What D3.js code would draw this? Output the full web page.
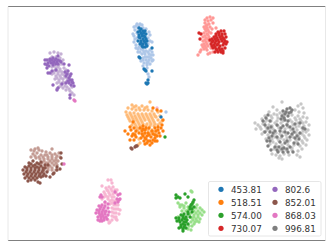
<!DOCTYPE html>
<html>
<head>
<meta charset="utf-8">
<style>
html, body { margin: 0; padding: 0; background: #fff; }
svg { display: block; }
text { font-family: "DejaVu Sans", sans-serif; }
</style>
</head>
<body>
<svg width="332" height="249"></svg>
<script src="https://d3js.org/d3.v7.min.js"></script>
<script>

// values are embedding coordinates, [x, y]
var labels = ["453.81", "518.51", "574.00", "730.07", "802.6", "852.01", "868.03", "996.81"];
var darkColors = ["#1f77b4", "#ff7f0e", "#2ca02c", "#d62728", "#9467bd", "#8c564b", "#e377c2", "#7f7f7f"];
var lightColors = ["#aec7e8", "#ffbb78", "#98df8a", "#ff9896", "#c5b0d5", "#c49c94", "#f7b6d2", "#c7c7c7"];

var blueLight = [[134,27],[137,24],[140,24],[142,25],[135,30],[133,34],[138,28],[143,28],[146,29],[149,32],[150,35],[134,36],[137,33],[137,38],[134,42],[136,45],[139,47],[148,38],[150,41],[152,42],[148,44],[146,47],[143,50],[140,52],[146,51],[150,50],[152,52],[138,52],[142,54],[145,54],[149,54],[153,55],[147,57],[151,58],[153,60],[143,58],[146,60],[149,60],[141,61],[144,63],[148,62],[152,61],[143,66],[147,65],[150,64],[148,74],[149,77],[147,68],[166,112],[136,26],[139,26],[141,49],[144,52],[148,52],[151,55],[145,57],[149,57],[143,60],[147,63],[138,49],[136,48],[135,39]];
var blueDark = [[139,28],[141,29],[143,31],[138,32],[141,33],[144,33],[146,34],[139,35],[142,36],[145,37],[140,38],[143,39],[146,39],[141,41],[144,41],[147,41],[138,41],[140,44],[143,44],[146,44],[142,46],[145,47],[143,47],[152,48],[140,58],[139,57],[145,70],[152,71],[144,69],[146,71],[146,83],[148,83],[148,80],[147,84],[161,117],[140,31],[145,31],[142,34],[139,37],[144,36],[141,43],[145,42],[147,46]];

var orangeLight = [[150,102],[132,105],[136,106],[142,106],[147,107],[128,108],[132,109],[136,110],[140,110],[144,110],[148,110],[152,111],[126,112],[130,113],[134,113],[138,114],[142,114],[146,114],[150,114],[154,114],[158,112],[128,117],[132,117],[136,118],[140,118],[144,118],[148,118],[152,118],[156,117],[160,116],[130,121],[134,121],[138,122],[142,122],[150,122],[154,122],[158,120],[162,121],[132,125],[136,126],[140,126],[146,126],[150,126],[154,126],[158,125],[138,130],[142,130],[148,130],[152,130],[135,133],[144,134],[150,134],[156,134],[139,139],[140,143],[138,145],[134,107],[139,108],[145,108],[127,115],[131,115],[135,116],[139,116],[143,116],[147,116],[151,116],[155,116],[129,119],[133,119],[137,120],[141,120],[145,120],[149,120],[153,120],[135,124],[139,124],[143,124],[147,124],[151,124],[155,124],[160,123],[137,128],[141,128],[151,132],[154,132]];
var orangeDark = [[153,108],[157,110],[161,111],[133,122],[130,127],[134,128],[125,131],[132,136],[133,134],[130,140],[140,128],[143,126],[142,131],[145,133],[143,136],[147,136],[144,141],[148,141],[152,131],[155,135],[158,130],[162,125],[163,131],[160,136],[153,140],[157,141],[150,145],[146,128],[149,128],[139,133],[155,128],[156,131],[151,137],[146,139],[141,138],[155,138],[150,141],[145,144],[163,120],[159,133],[136,137],[128,134],[134,140],[148,133],[131,130],[136,131],[143,129],[145,130],[149,135],[153,134],[157,136],[158,127],[161,128],[147,143],[152,143],[155,141],[145,138],[142,134],[135,135]];

var greenLight = [[191,191],[192,192],[178,203],[182,205],[186,203],[193,203],[197,205],[180,207],[184,208],[188,207],[192,207],[196,208],[200,208],[182,211],[186,211],[194,211],[198,211],[202,210],[204,212],[190,214],[194,215],[198,215],[202,215],[192,218],[196,219],[200,219],[191,222],[195,222],[199,222],[192,226],[188,229],[191,230],[186,218],[178,217],[180,205],[184,206],[188,210],[196,213],[200,213],[194,217],[198,217],[193,220],[197,221],[194,224],[189,226]];
var greenDark = [[176,195],[178,197],[180,198],[185,194],[188,197],[194,200],[192,204],[194,207],[190,209],[192,212],[188,212],[184,214],[181,215],[186,217],[179,218],[183,218],[187,220],[177,221],[180,222],[184,222],[181,225],[185,225],[188,224],[176,218],[179,228],[183,229],[186,228],[183,231],[190,217],[191,205],[176,198],[165,137],[183,216],[185,219],[182,220],[179,220],[183,224],[186,222],[181,227],[184,227],[188,214],[192,209],[190,207],[193,202]];

var redLight = [[207,18],[210,17],[213,18],[205,20],[208,21],[211,20],[205,23],[209,24],[213,23],[206,26],[210,27],[216,28],[205,29],[208,30],[212,29],[204,33],[207,34],[211,33],[203,37],[206,38],[209,37],[203,41],[206,42],[209,41],[202,45],[205,46],[208,46],[201,50],[204,49],[207,50],[210,53],[211,48],[198,55],[200,52],[208,54],[213,52],[207,25],[204,27],[207,28],[206,31],[209,32],[205,36],[208,35],[205,40],[208,39],[204,44],[207,44],[203,47],[206,48]];
var redDark = [[199,33],[201,34],[200,39],[218,32],[221,31],[224,31],[216,34],[219,35],[222,34],[225,34],[214,37],[217,38],[220,37],[223,38],[226,37],[210,40],[213,41],[216,41],[219,42],[222,41],[225,41],[227,42],[211,44],[214,45],[217,45],[220,46],[223,45],[226,44],[213,48],[216,49],[219,48],[222,49],[225,48],[215,52],[218,52],[221,52],[217,50],[223,53],[219,33],[216,36],[222,36],[212,39],[215,39],[218,40],[221,39],[224,39],[212,42],[215,43],[218,44],[224,43],[212,46],[215,47],[220,50],[223,51]];

var purpleLight = [[50,53],[54,52],[58,53],[61,54],[52,57],[56,57],[60,58],[49,60],[53,61],[63,60],[55,64],[59,65],[62,64],[52,67],[56,68],[60,69],[64,68],[54,71],[58,72],[62,72],[66,70],[52,74],[56,76],[60,76],[64,75],[68,74],[55,79],[59,80],[63,79],[67,78],[57,83],[61,84],[65,83],[69,82],[59,87],[63,88],[67,87],[72,87],[66,90],[70,91],[72,93],[74,95],[57,89],[54,66],[58,67],[56,70],[60,71],[54,73],[58,74],[62,74],[66,73],[57,78],[61,78],[65,77],[59,82],[63,82],[67,81],[61,86],[65,86],[69,89]];
var purpleDark = [[45,60],[47,60],[50,59],[53,58],[56,59],[58,56],[60,61],[48,63],[51,63],[54,62],[57,62],[61,62],[45,64],[49,66],[53,65],[58,64],[64,64],[69,65],[47,68],[52,71],[50,73],[48,73],[56,70],[65,72],[68,71],[71,74],[66,76],[69,78],[70,80],[72,80],[68,81],[73,83],[66,83],[71,85],[74,86],[53,85],[58,88],[62,84],[57,90],[70,95],[70,98],[52,60],[55,60],[58,60],[50,61],[53,63],[56,64],[47,65],[67,74],[70,76],[69,83],[72,82]];

var brownLight = [[31,150],[35,149],[38,148],[42,151],[46,152],[52,149],[33,154],[37,153],[41,155],[45,155],[50,153],[55,154],[59,153],[31,157],[36,158],[40,159],[44,159],[48,157],[52,157],[56,158],[60,157],[42,163],[46,163],[50,161],[54,161],[58,161],[46,167],[50,166],[54,165],[57,165],[44,171],[48,170],[52,170],[40,174],[56,170],[34,151],[39,150],[35,156],[39,157],[43,157],[47,155],[52,155],[57,156],[44,161],[48,159],[52,159],[56,160],[48,163],[52,163],[56,163],[48,168],[52,168]];
var brownDark = [[61,153],[61,158],[62,164],[57,167],[57,170],[60,169],[29,163],[33,161],[37,163],[41,162],[45,165],[25,167],[29,166],[33,166],[37,167],[41,166],[45,168],[48,165],[23,170],[27,170],[31,170],[35,170],[39,170],[43,170],[47,172],[24,174],[28,174],[32,174],[36,174],[40,174],[44,174],[25,178],[29,178],[33,178],[37,178],[41,177],[46,176],[50,177],[54,173],[31,180],[35,180],[38,182],[40,183],[28,181],[53,174],[131,148],[132,149],[135,147],[136,146],[137,146],[31,164],[35,165],[39,164],[27,168],[31,168],[35,168],[39,168],[43,168],[26,172],[30,172],[34,172],[38,172],[42,172],[27,176],[31,176],[35,176],[39,176],[43,176]];

var pinkLight = [[108,180],[111,180],[112,183],[102,186],[106,188],[109,187],[113,187],[117,190],[104,192],[108,191],[112,191],[116,193],[106,196],[110,195],[114,197],[102,199],[108,199],[112,200],[116,201],[105,203],[110,204],[114,205],[118,205],[112,208],[116,209],[120,210],[112,212],[116,213],[119,214],[112,216],[116,217],[108,220],[112,220],[116,219],[109,223],[117,220],[157,108],[107,190],[111,189],[115,190],[105,194],[109,193],[113,194],[104,197],[108,197],[112,197],[110,201],[114,201],[112,203],[116,205],[114,209],[118,209],[114,213],[114,217],[110,222]];
var pinkDark = [[101,195],[102,197],[100,197],[115,192],[118,195],[120,194],[117,199],[119,200],[115,203],[118,202],[120,199],[105,202],[108,204],[99,206],[102,205],[105,206],[108,208],[97,210],[100,209],[103,210],[106,211],[109,212],[96,213],[99,213],[102,214],[105,214],[108,215],[98,217],[101,217],[104,218],[107,219],[100,221],[102,221],[98,220],[74,100],[75,101],[64,164],[101,207],[104,208],[99,211],[102,212],[105,212],[100,215],[103,216],[106,217],[101,219],[104,220]];

var grayLight = [[282,102],[273,107],[277,110],[298,106],[301,104],[303,108],[295,110],[299,112],[304,113],[269,112],[265,116],[274,114],[280,113],[286,112],[292,115],[298,116],[303,117],[307,118],[262,119],[267,120],[272,118],[278,118],[284,117],[290,120],[296,120],[301,121],[306,122],[255,123],[258,125],[263,124],[269,125],[275,123],[281,123],[287,124],[293,125],[299,126],[304,126],[309,125],[256,129],[261,129],[267,130],[273,129],[279,128],[285,129],[291,130],[297,130],[303,131],[308,130],[262,134],[268,135],[274,134],[280,134],[286,135],[292,135],[298,135],[304,136],[309,135],[266,139],[272,139],[278,139],[284,140],[290,140],[296,140],[302,141],[307,140],[270,144],[276,144],[282,145],[288,145],[294,145],[300,146],[306,145],[274,149],[280,150],[286,150],[292,150],[298,151],[302,149],[272,154],[276,155],[280,156],[284,154],[289,155],[297,155],[300,157],[279,158],[282,159],[271,116],[277,115],[283,114],[295,118],[300,119],[265,122],[271,121],[277,121],[283,121],[292,122],[298,123],[303,123],[260,127],[266,127],[272,126],[278,126],[288,127],[296,127],[302,128],[264,132],[270,130],[276,133],[283,132],[296,133],[302,134],[306,132],[269,137],[275,137],[281,138],[287,138],[293,137],[299,137],[305,138],[273,142],[279,141],[288,142],[297,142],[303,143],[277,147],[283,147],[292,148]];
var grayDark = [[283,111],[287,109],[290,108],[292,110],[285,114],[282,116],[288,116],[291,112],[281,119],[285,120],[288,121],[268,115],[266,118],[270,121],[263,121],[265,125],[271,127],[268,128],[277,125],[283,126],[280,131],[285,132],[290,127],[293,129],[295,124],[300,123],[265,132],[270,132],[275,131],[272,136],[277,137],[267,141],[270,141],[282,136],[288,133],[294,132],[300,133],[305,129],[303,128],[290,137],[295,138],[299,139],[285,143],[280,142],[275,147],[279,147],[284,148],[290,147],[294,143],[298,144],[271,150],[268,146],[293,152],[288,152],[283,152],[278,152],[286,112],[289,113],[284,118],[287,125],[281,128],[273,133],[269,138],[292,134],[297,136],[287,141],[282,149],[287,149],[277,150]];

var lightSeries = [blueLight, orangeLight, greenLight, redLight, purpleLight, brownLight, pinkLight, grayLight];
var darkSeries = [blueDark, orangeDark, greenDark, redDark, purpleDark, brownDark, pinkDark, grayDark];

var svg = d3.select("svg"),
    left = 8, right = 325.5, top_ = 6.5, bottom = 240.5;

var x = d3.scaleLinear().domain([8, 325.5]).range([left, right]),
    y = d3.scaleLinear().domain([6.5, 240.5]).range([top_, bottom]);

// the reference is a downscaled image, so everything is a little soft
var soft = svg.append("defs").append("filter").attr("id", "soft");
soft.append("feGaussianBlur").attr("stdDeviation", 0.35);

// spines: top and bottom read darker than the sides
svg.append("g").selectAll("line")
    .data([[left, top_, right, top_, "#808080"], [left, bottom, right, bottom, "#808080"],
           [left, top_, left, bottom, "#e8e8e8"], [right, top_, right, bottom, "#e8e8e8"]])
  .enter().append("line")
    .attr("x1", function(d) { return d[0]; })
    .attr("y1", function(d) { return d[1]; })
    .attr("x2", function(d) { return d[2]; })
    .attr("y2", function(d) { return d[3]; })
    .attr("stroke", function(d) { return d[4]; });

var marks = svg.append("g").attr("filter", "url(#soft)");

function drawPoints(list, color) {
  marks.append("g").attr("fill", color).selectAll("circle")
      .data(list)
    .enter().append("circle")
      .attr("cx", function(d) { return x(d[0]); })
      .attr("cy", function(d) { return y(d[1]); })
      .attr("r", 1.7);
}

lightSeries.forEach(function(s, i) { drawPoints(s, lightColors[i]); });
darkSeries.forEach(function(s, i) { drawPoints(s, darkColors[i]); });

// legend, two columns of four
var legend = svg.append("g");
legend.append("rect")
    .attr("x", 208.5).attr("y", 181.5)
    .attr("width", 112.5).attr("height", 54.5)
    .attr("rx", 1.5)
    .attr("fill", "#fff").attr("fill-opacity", 0.8)
    .attr("stroke", "#e0e0e0").attr("stroke-width", 0.8);

var item = legend.selectAll("g")
    .data(labels)
  .enter().append("g")
    .attr("transform", function(d, i) {
      return "translate(" + (i < 4 ? 221 : 275) + "," + (189.3 + (i % 4) * 13) + ")";
    });

item.append("circle")
    .attr("r", 2.6)
    .attr("fill", function(d, i) { return darkColors[i]; });

item.append("text")
    .attr("x", 10)
    .attr("y", 3.2)
    .attr("font-size", 8.8)
    .attr("fill", "#333")
    .text(function(d) { return d; });

</script>
</body>
</html>
